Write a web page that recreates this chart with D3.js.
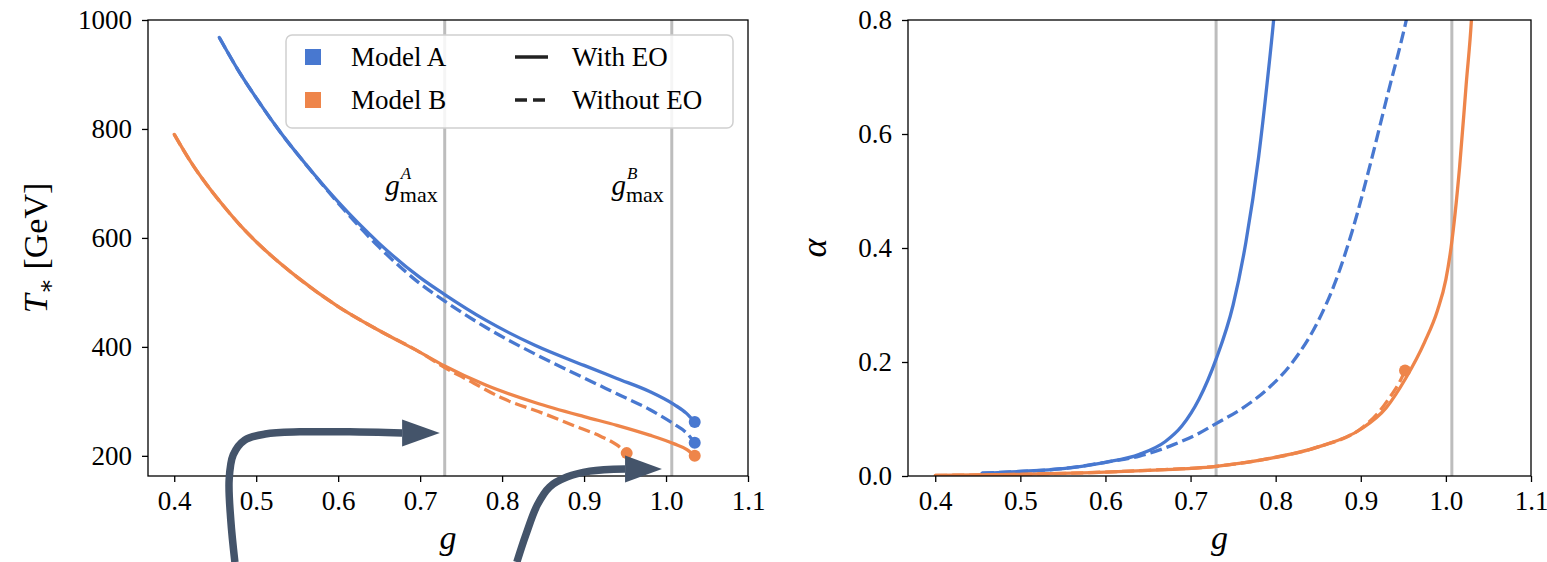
<!DOCTYPE html>
<html><head><meta charset="utf-8">
<script src="https://cdn.jsdelivr.net/npm/d3@7"></script>
<style>
body{margin:0;background:#fff}
text{font-family:"Liberation Serif","DejaVu Serif",serif;fill:#000}
</style>
</head><body>
<svg id="c" width="1547" height="562"></svg>
<script>
// ---------- data ----------
const xTicks = [0.4,0.5,0.6,0.7,0.8,0.9,1.0,1.1];
const tTicks = [200,400,600,800,1000];
const aTicks = [0.0,0.2,0.4,0.6,0.8];
const gMaxA = 0.73, gMaxB = 1.007;

// Left panel: T* [GeV]
const gAWith = [0.455,0.48,0.50,0.53,0.56,0.60,0.65,0.70,0.73,0.78,0.84,0.90,0.94,0.98,1.01,1.025,1.035];
const TAWith = [968,903,857,793,736,666,590,527,496,449,403,366,342,318,294,278,262];
const gAWithout = [0.455,0.48,0.50,0.53,0.56,0.60,0.65,0.70,0.73,0.78,0.84,0.90,0.94,0.98,1.01,1.025,1.035];
const TAWithout = [968,903,857,793,736,664,583,516,484,436,387,343,314,285,258,242,224];
const gBWith = [0.40,0.42,0.44,0.46,0.48,0.50,0.55,0.60,0.65,0.70,0.73,0.78,0.84,0.90,0.94,0.98,1.01,1.025,1.035];
const TBWith = [790,740,697,659,624,593,528,474,430,390,365,330,298,272,256,238,222,212,200];
const gBWithout = [0.40,0.42,0.44,0.46,0.48,0.50,0.55,0.60,0.65,0.70,0.73,0.76,0.80,0.85,0.89,0.92,0.94,0.952];
const TBWithout = [790,740,697,659,624,593,528,474,430,390,362,338,306,278,254,236,220,205];

// Right panel: alpha
const aGAWith = [0.455,0.50,0.55,0.60,0.64,0.67,0.69,0.71,0.73,0.75,0.765,0.78,0.79,0.80,0.81];
const aAWith  = [0.005,0.008,0.013,0.024,0.038,0.060,0.088,0.135,0.205,0.300,0.410,0.560,0.690,0.840,1.05];
const aGAWithout = [0.455,0.50,0.55,0.60,0.64,0.68,0.71,0.73,0.76,0.79,0.82,0.85,0.87,0.89,0.91,0.93,0.955,0.97];
const aAWithout  = [0.005,0.008,0.013,0.024,0.035,0.055,0.075,0.092,0.118,0.152,0.200,0.272,0.340,0.430,0.540,0.660,0.810,0.92];
const aGBWith = [0.40,0.50,0.56,0.65,0.73,0.79,0.85,0.90,0.93,0.953,0.975,0.99,1.0,1.006,1.016,1.024,1.03,1.035];
const aBWith  = [0.001,0.003,0.005,0.010,0.017,0.030,0.051,0.082,0.120,0.172,0.235,0.290,0.345,0.400,0.540,0.690,0.800,0.950];
const aGBWithout = [0.40,0.50,0.56,0.65,0.73,0.79,0.85,0.90,0.92,0.935,0.945,0.952];
const aBWithout  = [0.001,0.003,0.005,0.010,0.017,0.030,0.051,0.083,0.110,0.140,0.163,0.185];

// annotation arrows (in left-panel data units g, T*)
const arrow1 = [[0.474,5],[0.469,82],[0.467,156],[0.472,202],[0.486,229],[0.511,240],[0.553,244],[0.614,244],[0.678,242]];
const arrow1Tip = [0.724,242];
const arrow2 = [[0.818,5],[0.829,55],[0.843,110],[0.858,143],[0.879,161],[0.907,172],[0.950,176]];
const arrow2Tip = [0.995,176];

const colA = "#4878d0", colB = "#ee854a", grey = "#bdbdbd", arrowCol = "#44546a";
const FONT = '"Liberation Serif","DejaVu Serif",serif';

// ---------- layout ----------
const svg = d3.select("#c");
const L = {x0:148, x1:748, y0:20, y1:476};
const R = {x0:908, x1:1531, y0:20, y1:476};
const xDom = [0.368, 1.1];

const xL = d3.scaleLinear().domain(xDom).range([L.x0, L.x1]);
const yL = d3.scaleLinear().domain([163, 1000]).range([L.y1, L.y0]);
const xR = d3.scaleLinear().domain(xDom).range([R.x0, R.x1]);
const yR = d3.scaleLinear().domain([0, 0.8]).range([R.y1, R.y0]);

const defs = svg.append("defs");
defs.append("clipPath").attr("id","clipL").append("rect")
  .attr("x",L.x0).attr("y",L.y0).attr("width",L.x1-L.x0).attr("height",L.y1-L.y0);
defs.append("clipPath").attr("id","clipR").append("rect")
  .attr("x",R.x0).attr("y",R.y0).attr("width",R.x1-R.x0).attr("height",R.y1-R.y0);

function zip(a,b){return a.map((v,i)=>[v,b[i]]);}

function panel(P, xs, ys, yTicks, yFmt, clipId){
  const g = svg.append("g");
  const pl = g.append("g").attr("clip-path",`url(#${clipId})`);
  [gMaxA,gMaxB].forEach(v=>{
    pl.append("line").attr("x1",xs(v)).attr("x2",xs(v)).attr("y1",P.y0).attr("y2",P.y1)
      .attr("stroke",grey).attr("stroke-width",3);
  });
  const ax = g.append("g").attr("transform",`translate(0,${P.y1})`)
    .call(d3.axisBottom(xs).tickValues(xTicks).tickFormat(d3.format(".1f")).tickSize(6).tickSizeOuter(0).tickPadding(9));
  const ay = g.append("g").attr("transform",`translate(${P.x0},0)`)
    .call(d3.axisLeft(ys).tickValues(yTicks).tickFormat(yFmt).tickSize(6).tickSizeOuter(0).tickPadding(10));
  [ax,ay].forEach(a=>{
    a.attr("font-family",FONT);
    a.select(".domain").remove();
    a.selectAll("line").attr("stroke","#000").attr("stroke-width",1.3);
    a.selectAll("text").style("font-family",FONT).style("font-size","27px").attr("fill","#000");
  });
  return {g, plot: pl};
}

const pL = panel(L, xL, yL, tTicks, d3.format("d"), "clipL");
const pR = panel(R, xR, yR, aTicks, d3.format(".1f"), "clipR");

function drawLine(plot, xs, ys, gx, gy, col, dashed){
  const line = d3.line().x(d=>xs(d[0])).y(d=>ys(d[1])).curve(d3.curveMonotoneX);
  plot.append("path").attr("d", line(zip(gx,gy))).attr("fill","none")
    .attr("stroke",col).attr("stroke-width",3.3).attr("stroke-linecap", dashed ? "butt" : "round")
    .attr("stroke-dasharray", dashed ? "12,5" : null);
}
function drawDot(plot, xs, ys, gx, gy, col){
  const n = gx.length-1;
  plot.append("circle").attr("cx",xs(gx[n])).attr("cy",ys(gy[n])).attr("r",6).attr("fill",col);
}

drawLine(pL.plot, xL, yL, gAWith, TAWith, colA, false);
drawLine(pL.plot, xL, yL, gAWithout, TAWithout, colA, true);
drawLine(pL.plot, xL, yL, gBWith, TBWith, colB, false);
drawLine(pL.plot, xL, yL, gBWithout, TBWithout, colB, true);
drawDot(pL.plot, xL, yL, gAWith, TAWith, colA);
drawDot(pL.plot, xL, yL, gAWithout, TAWithout, colA);
drawDot(pL.plot, xL, yL, gBWith, TBWith, colB);
drawDot(pL.plot, xL, yL, gBWithout, TBWithout, colB);

drawLine(pR.plot, xR, yR, aGAWith, aAWith, colA, false);
drawLine(pR.plot, xR, yR, aGAWithout, aAWithout, colA, true);
drawLine(pR.plot, xR, yR, aGBWith, aBWith, colB, false);
drawLine(pR.plot, xR, yR, aGBWithout, aBWithout, colB, true);
drawDot(pR.plot, xR, yR, aGBWithout, aBWithout, colB);

[L,R].forEach(P=>{
  svg.append("rect").attr("x",P.x0).attr("y",P.y0).attr("width",P.x1-P.x0).attr("height",P.y1-P.y0)
    .attr("fill","none").attr("stroke","#000").attr("stroke-width",1.3);
});

// g_max labels as a single text element (sup stacked over sub)
function gmax(xEnd, sup){
  const t = svg.append("text").attr("x",xEnd).attr("y",195).attr("text-anchor","end");
  t.append("tspan").style("font-size","29px").style("font-style","italic").text("g");
  const s = t.append("tspan").attr("dy",-16).attr("dx",1).style("font-size","17px").style("font-style","italic").text(sup);
  const sw = s.node().getComputedTextLength();
  t.append("tspan").attr("dy",23).attr("dx",-sw-1).style("font-size","22px").text("max");
}
gmax(xL(gMaxA)-7, "A");
gmax(xL(gMaxB)-8, "B");

// axis labels
svg.append("text").attr("x",xL(0.734)).attr("y",549).attr("text-anchor","middle")
  .style("font-size","34px").style("font-style","italic").text("g");
svg.append("text").attr("x",xR(0.734)).attr("y",549).attr("text-anchor","middle")
  .style("font-size","34px").style("font-style","italic").text("g");

const yl = svg.append("text").attr("transform",`translate(47,${(L.y0+L.y1)/2}) rotate(-90)`)
  .attr("text-anchor","middle").style("font-size","34px");
yl.append("tspan").style("font-style","italic").text("T");
yl.append("tspan").attr("dy",7).style("font-size","24px").text("∗");
yl.append("tspan").attr("dy",-7).text(" [GeV]");

svg.append("text").attr("transform",`translate(826,${(R.y0+R.y1)/2}) rotate(-90)`)
  .attr("text-anchor","middle").style("font-size","36px").style("font-style","italic").text("α");

// legend
const lg = svg.append("g");
lg.append("rect").attr("x",286).attr("y",35).attr("width",447).attr("height",93).attr("rx",6)
  .attr("fill","#fff").attr("fill-opacity",0.85).attr("stroke","#d0d0d0").attr("stroke-width",1.5);
const legModels = [["Model A",colA],["Model B",colB]];
const legStyles = [["With EO",false],["Without EO",true]];
legModels.forEach((d,i)=>{
  const cy = 57 + i*43;
  lg.append("rect").attr("x",305).attr("y",cy-8).attr("width",16).attr("height",16).attr("fill",d[1]);
  lg.append("text").attr("x",351).attr("y",cy+9).style("font-size","27px").text(d[0]);
});
legStyles.forEach((d,i)=>{
  const cy = 57 + i*43;
  lg.append("line").attr("x1",515).attr("x2",548).attr("y1",cy).attr("y2",cy)
    .attr("stroke","#222").attr("stroke-width",3.3).attr("stroke-dasharray", d[1] ? "12,6" : null);
  lg.append("text").attr("x",572).attr("y",cy+9).style("font-size","27px").text(d[0]);
});

// arrows
function arrow(pts, tip){
  const line = d3.line().x(d=>xL(d[0])).y(d=>yL(d[1])).curve(d3.curveCatmullRom);
  svg.append("path").attr("d",line(pts)).attr("fill","none").attr("stroke",arrowCol)
    .attr("stroke-width",7.5).attr("stroke-linecap","butt");
  const last = pts[pts.length-1];
  const bx = xL(last[0]), by = yL(last[1]), tx = xL(tip[0]), ty = yL(tip[1]);
  const h = 13.5;
  svg.append("path").attr("d",`M${bx},${by-h}L${tx},${ty}L${bx},${by+h}Z`).attr("fill",arrowCol);
}
arrow(arrow1, arrow1Tip);
arrow(arrow2, arrow2Tip);
</script>
</body></html>
